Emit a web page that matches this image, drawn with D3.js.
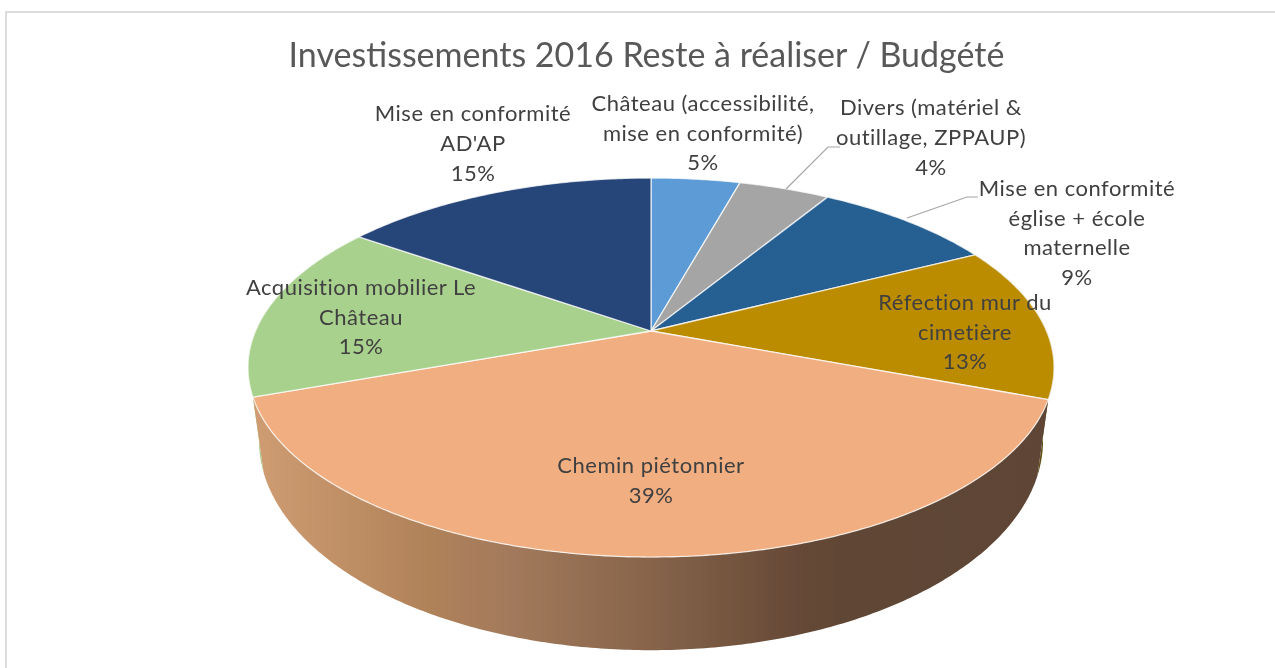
<!DOCTYPE html>
<html><head><meta charset="utf-8">
<script src="https://cdn.jsdelivr.net/npm/d3@7/dist/d3.min.js"></script>
<style>html,body{margin:0;padding:0;background:#fff;overflow:hidden}svg{display:block}text{font-family:Lato,"Open Sans",sans-serif}</style>
</head><body><div id="chart"></div>
<script>
const titleText = "Investissements 2016 Reste à réaliser / Budgété";
const categories = ["Château","Divers","Mise en conformité église + école maternelle","Réfection mur du cimetière","Chemin piétonnier","Acquisition mobilier Le Château","Mise en conformité AD'AP"];
const values = [4.3,4.4,8.8,13.2,38.8,15.2,15.3];
const percentLabels = ["5%","4%","9%","13%","39%","15%","15%"];
const labelLines = [
  ["Château (accessibilité,","mise en conformité)"],
  ["Divers (matériel &","outillage, ZPPAUP)"],
  ["Mise en conformité","église + école","maternelle"],
  ["Réfection mur du","cimetière"],
  ["Chemin piétonnier"],
  ["Acquisition mobilier Le","Château"],
  ["Mise en conformité","AD'AP"]
];
const sliceColors = ["#5b9bd5","#a5a5a5","#255e91","#bb8b00","#f1ae80","#a9d18e","#264478"];
const labelAnchors = [[703,111,29.5],[931,115,30],[1077,196,29.7],[965,310,29.5],[651,473,29.5],[361,295,29.5],[473,121,30]];
const leaders = [[[786,189],[828,147],[840,147]],[[907,218],[967,197],[978,197]]];
const W=1275,H=668,cx=651,k=0.1926;
const topPlane={a:395.5,b:182.5,cy:331}, botPlane={a:384.7,b:202,cy:400};
const project=(p,t)=>{const u=Math.sin(t),v=Math.cos(t),d=1+k*v;return [cx+p.a*u/d,p.cy-p.b*v/d];};
const arcPts=(p,a0,a1)=>{const n=Math.max(2,Math.ceil((a1-a0)/0.01));return d3.range(n+1).map(i=>project(p,a0+(a1-a0)*i/n));};
const line=d3.line();
const svg=d3.select("#chart").append("svg").attr("width",W).attr("height",H);
const defs=svg.append("defs");
const f=defs.append("filter").attr("id","soft").attr("x","-5%").attr("y","-5%").attr("width","110%").attr("height","110%");
f.append("feGaussianBlur").attr("stdDeviation",0.45);
const g=defs.append("linearGradient").attr("id","wall").attr("gradientUnits","userSpaceOnUse").attr("x1",250).attr("x2",1050).attr("y1",0).attr("y2",0);
[[0,"#d09d73"],[0.225,"#b08259"],[0.32,"#a37a5c"],[0.5,"#87644a"],[0.68,"#664a37"],[0.75,"#604634"],[1,"#5e4534"]].forEach(s=>g.append("stop").attr("offset",s[0]).attr("stop-color",s[1]));
svg.append("rect").attr("x",6).attr("y",12).attr("width",W+20).attr("height",H+20).attr("fill","#fff").attr("stroke","#dcdcdc").attr("stroke-width",2);
const root=svg.append("g").attr("filter","url(#soft)");
const arcs=d3.pie().sort(null).value(d=>d)(values);
// walls
const wallFill={3:"#5f4f18",5:"#a6cc8b",4:"url(#wall)"};
[3,5,4].forEach(i=>{const d=arcs[i];
  root.append("path").attr("d",line([...arcPts(topPlane,d.startAngle,d.endAngle),...arcPts(botPlane,d.startAngle,d.endAngle).reverse()])+"Z").attr("fill",wallFill[i]);
});
// top faces
arcs.forEach((d,i)=>{
  root.append("path").attr("d",line([[cx,topPlane.cy],...arcPts(topPlane,d.startAngle,d.endAngle)])+"Z")
    .attr("fill",sliceColors[i]).attr("stroke","#fff").attr("stroke-opacity",0.75).attr("stroke-width",1.3).attr("stroke-linejoin","round");
});
// leaders
leaders.forEach(l=>root.append("path").attr("d",line(l)).attr("fill","none").attr("stroke","#a6a6a6").attr("stroke-width",1.2));
// title
root.append("text").attr("x",646.5).attr("y",67).attr("text-anchor","middle").attr("font-size",34).attr("fill","#595959").text(titleText);
// labels
arcs.forEach((d,i)=>{
  const [x,y,dy]=labelAnchors[i];
  const lines=[...labelLines[i],percentLabels[i]];
  const t=root.append("text").attr("text-anchor","middle").attr("font-size",22).attr("letter-spacing",0.5).attr("fill","#404040");
  lines.forEach((s,j)=>t.append("tspan").attr("x",x).attr("y",y+j*dy).text(s));
});
</script></body></html>
